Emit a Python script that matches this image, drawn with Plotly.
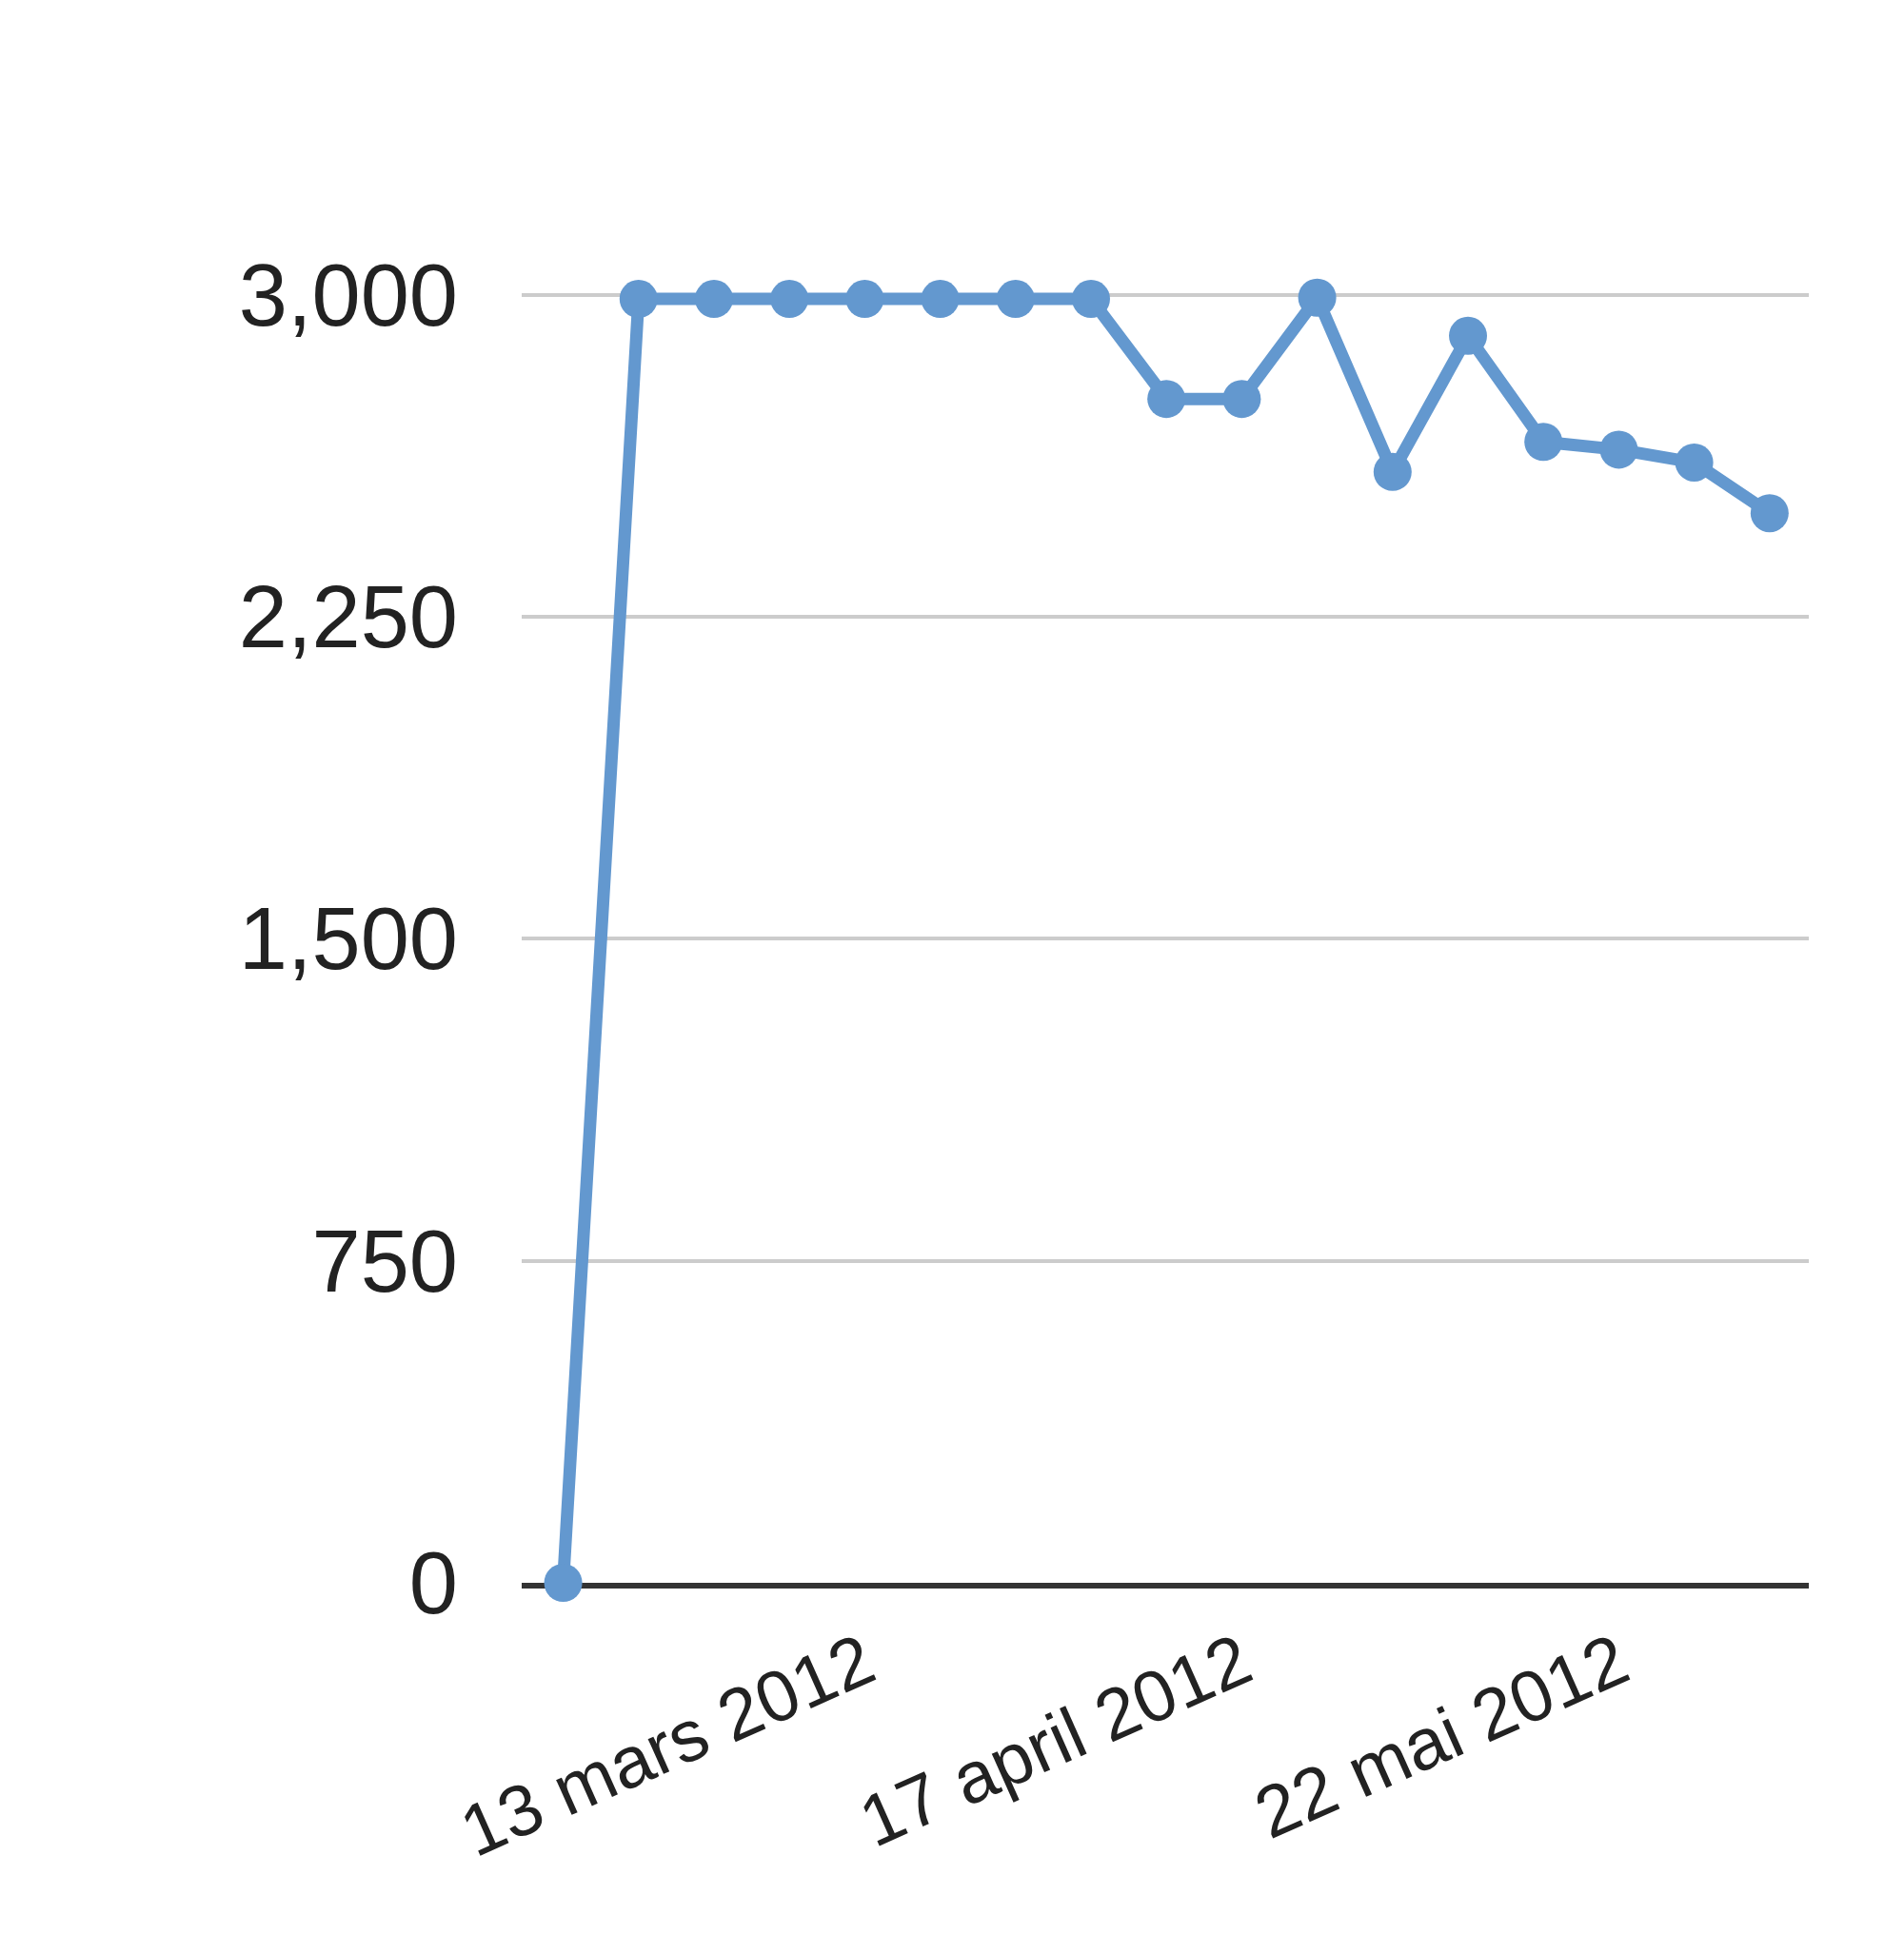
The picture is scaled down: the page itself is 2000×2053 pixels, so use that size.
import plotly.graph_objects as go

dates = ["2012-02-14", "2012-02-21", "2012-02-28", "2012-03-06", "2012-03-13",
         "2012-03-20", "2012-03-27", "2012-04-03", "2012-04-10", "2012-04-17",
         "2012-04-24", "2012-05-01", "2012-05-08", "2012-05-15", "2012-05-22",
         "2012-05-29", "2012-06-05"]
values = [0, 2990, 2990, 2990, 2990, 2990, 2990, 2990, 2757, 2757,
          2993, 2587, 2904, 2657, 2639, 2609, 2491]

x_tickvals = ["2012-03-13", "2012-04-17", "2012-05-22"]
x_ticktext = ["13 mars 2012", "17 april 2012", "22 mai 2012"]
y_tickvals = [0, 750, 1500, 2250, 3000]
y_ticktext = ["0", "750", "1,500", "2,250", "3,000"]

fig = go.Figure()
fig.add_trace(go.Scatter(
    x=dates, y=values, mode="lines+markers",
    line=dict(color="#6398cf", width=13),
    marker=dict(color="#6398cf", size=40),
    cliponaxis=False, showlegend=False,
))

fig.update_layout(
    width=2000, height=2053,
    margin=dict(l=540, r=108, t=297, b=398),
    paper_bgcolor="white", plot_bgcolor="white",
    font=dict(family="Liberation Sans, Arial, sans-serif", color="#222222"),
    xaxis=dict(
        range=["2012-02-10 03:36", "2012-06-08 15:20"],
        tickmode="array", tickvals=x_tickvals, ticktext=x_ticktext,
        tickangle=-24, tickfont=dict(size=76),
        showgrid=False, zeroline=False,
        showline=True, linecolor="#333333", linewidth=6,
        layer="below traces", ticks="", ticklabelstandoff=6,
    ),
    yaxis=dict(
        range=[0, 3010],
        tickmode="array", tickvals=y_tickvals, ticktext=y_ticktext,
        tickfont=dict(size=92),
        showgrid=True, gridcolor="#cccccc", gridwidth=4,
        zeroline=False, showline=False, ticks="",
        ticklabelstandoff=66, layer="below traces",
    ),
)

fig.write_html("out.html")
